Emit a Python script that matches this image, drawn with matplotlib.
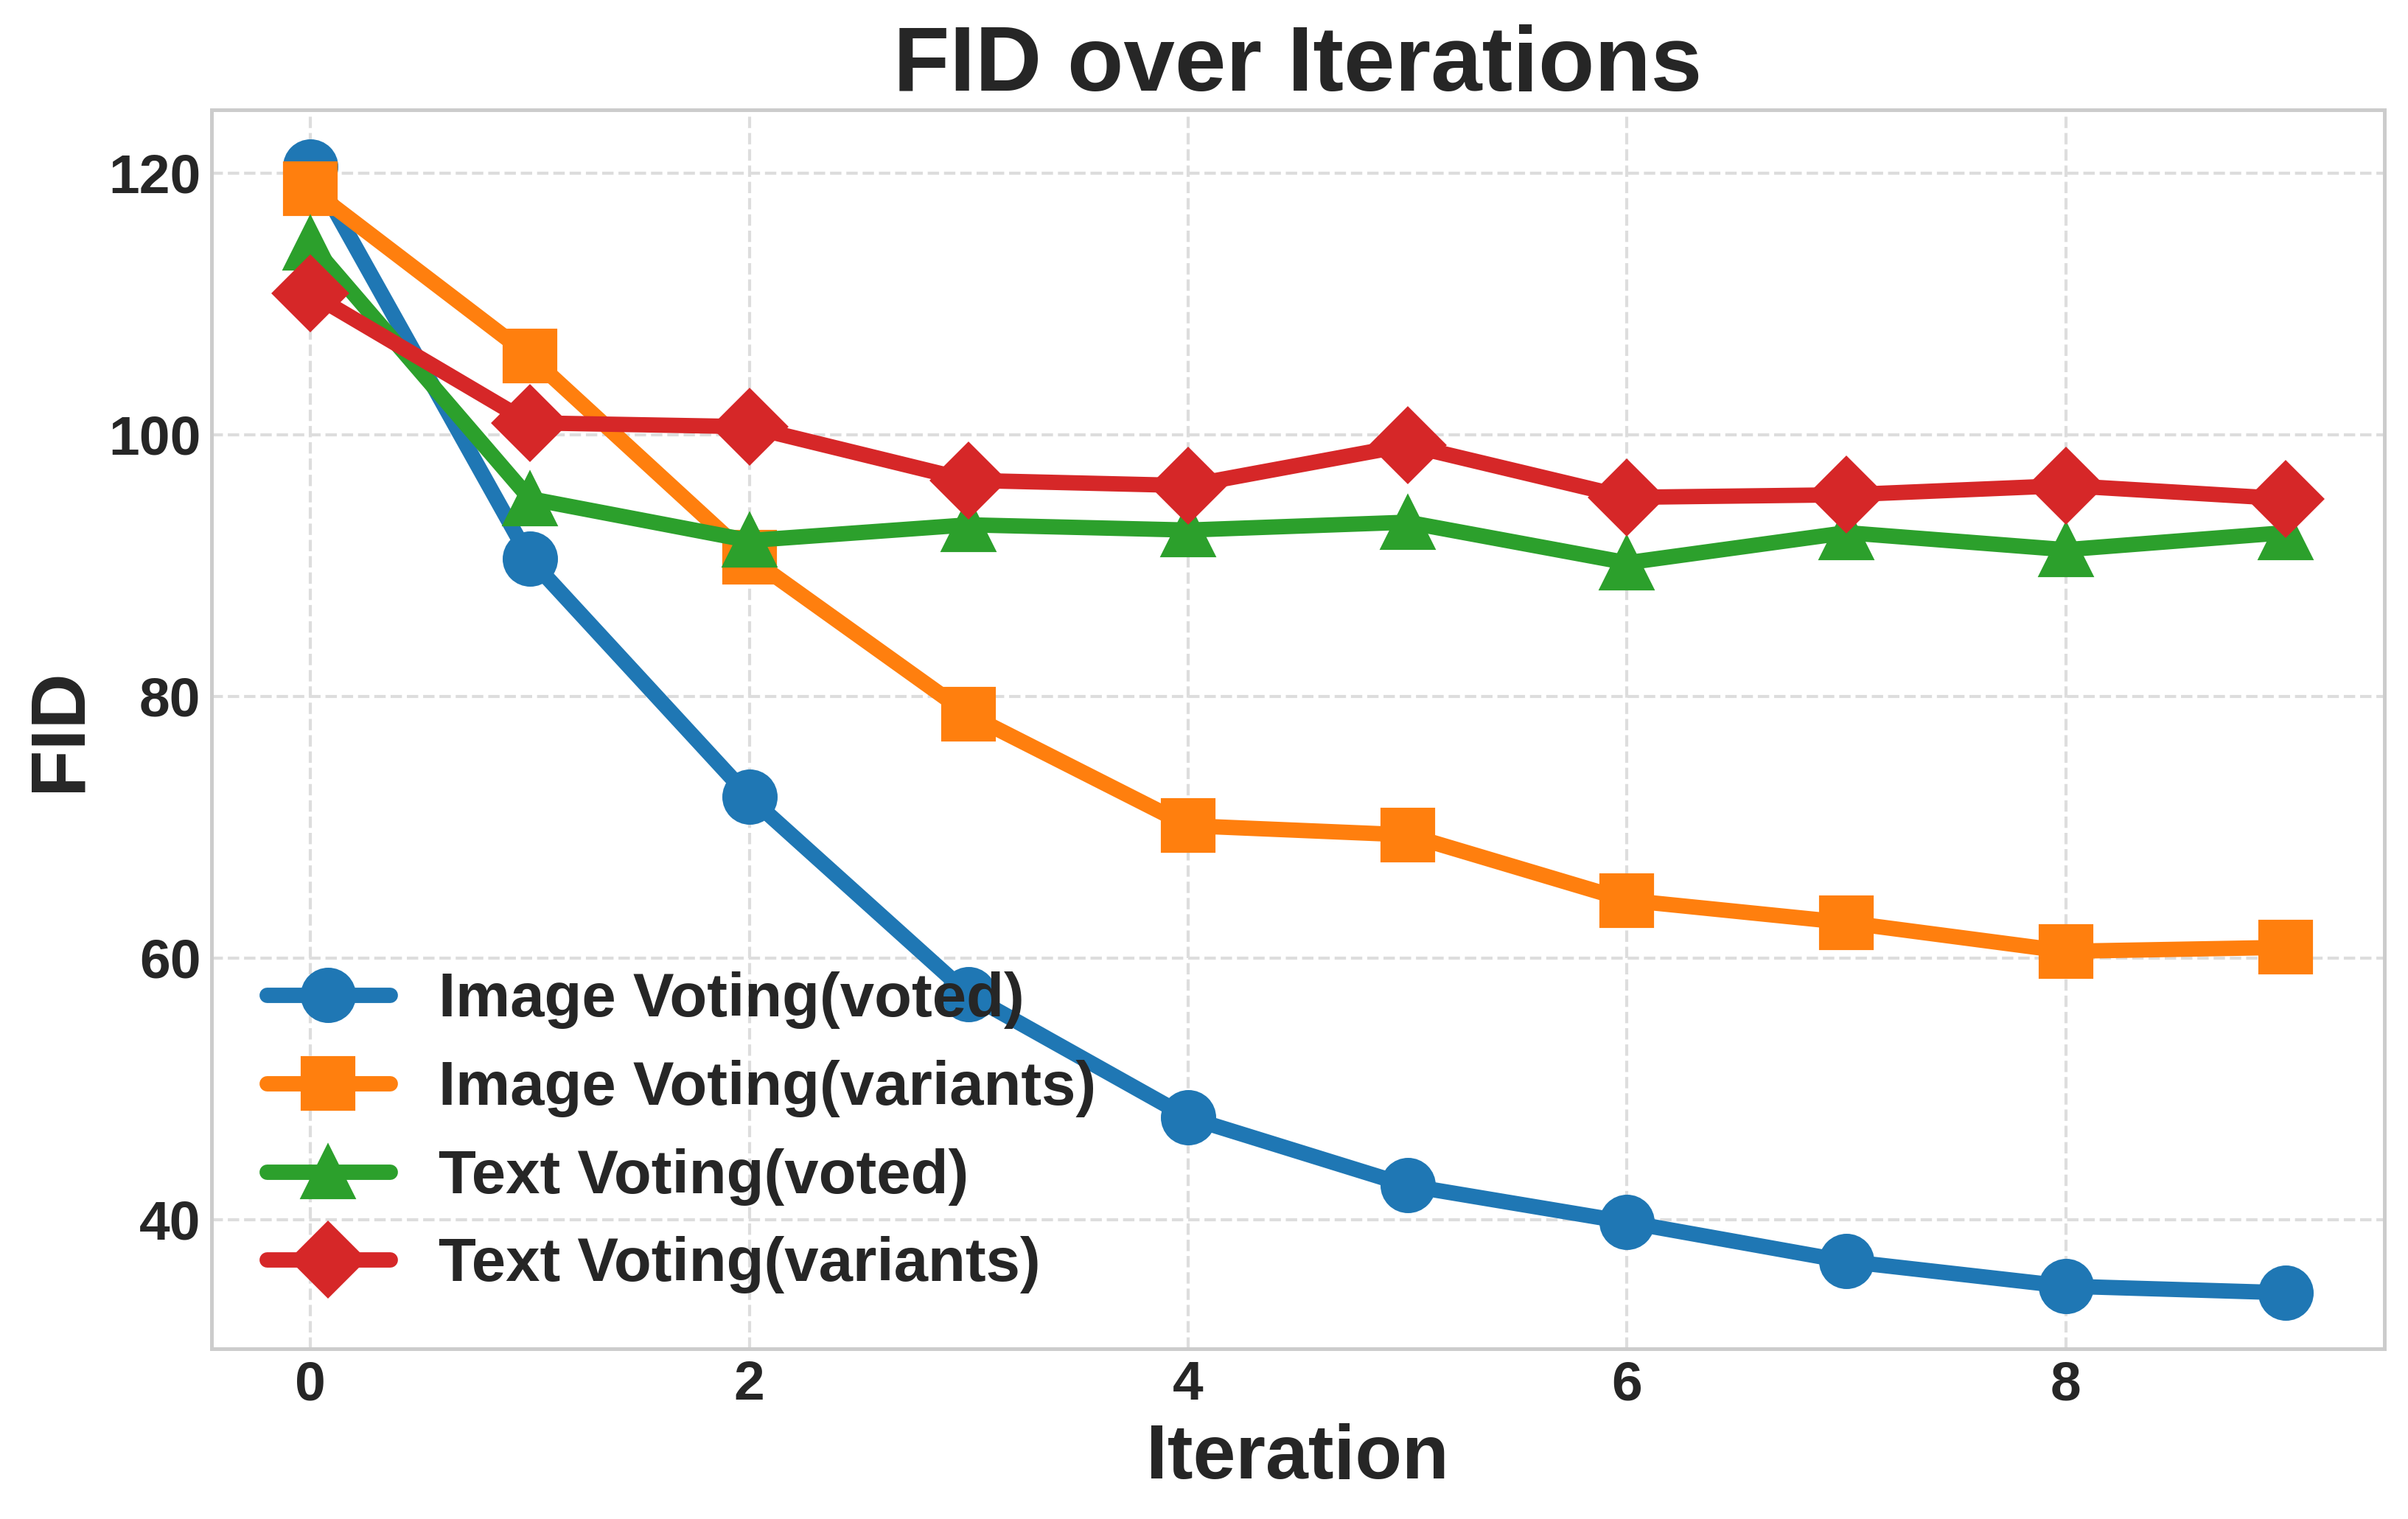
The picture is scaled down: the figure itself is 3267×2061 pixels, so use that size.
import numpy as np
import matplotlib
matplotlib.use("Agg")
import matplotlib.pyplot as plt

plt.style.use("seaborn-v0_8-whitegrid")
plt.rcParams['font.family'] = ['Liberation Sans', 'DejaVu Sans']
plt.rcParams['font.weight'] = 'bold'

iterations = np.arange(10)
image_voted = [120.5, 90.5, 72.3, 57.2, 47.8, 42.6, 39.8, 36.8, 34.9, 34.4]
image_variants = [118.8, 106.0, 90.6, 78.6, 70.1, 69.4, 64.4, 62.7, 60.5, 60.8]
text_voted = [114.6, 95.1, 91.9, 93.1, 92.7, 93.3, 90.2, 92.5, 91.2, 92.5]
text_variants = [110.8, 100.9, 100.6, 96.5, 96.1, 99.2, 95.2, 95.4, 96.1, 95.1]

fig, ax = plt.subplots(figsize=(10.893, 6.87), dpi=300)
ax.plot(iterations, image_voted, marker='o', color='#1f77b4', lw=5, ms=17, label='Image Voting(voted)')
ax.plot(iterations, image_variants, marker='s', color='#ff7f0e', lw=5, ms=17, label='Image Voting(variants)')
ax.plot(iterations, text_voted, marker='^', color='#2ca02c', lw=5, ms=17, label='Text Voting(voted)')
ax.plot(iterations, text_variants, marker='D', color='#d62728', lw=5, ms=17, label='Text Voting(variants)')

ax.set_title('FID over Iterations', fontsize=30, fontweight='bold')
ax.set_xlabel('Iteration', fontsize=25, fontweight='bold')
ax.set_ylabel('FID', fontsize=25, fontweight='bold')
ax.tick_params(labelsize=18)
for lab in ax.get_xticklabels() + ax.get_yticklabels():
    lab.set_fontweight('bold')
ax.grid(True, linestyle='--', color='#dddddd', linewidth=1)
for s in ax.spines.values():
    s.set_visible(True)
    s.set_color('#cccccc')
    s.set_linewidth(1.2)
ax.legend(loc='lower left', frameon=False, prop={'size': 20, 'weight': 'bold'})
fig.tight_layout(pad=0.8)
fig.savefig('out.png', dpi=300)
